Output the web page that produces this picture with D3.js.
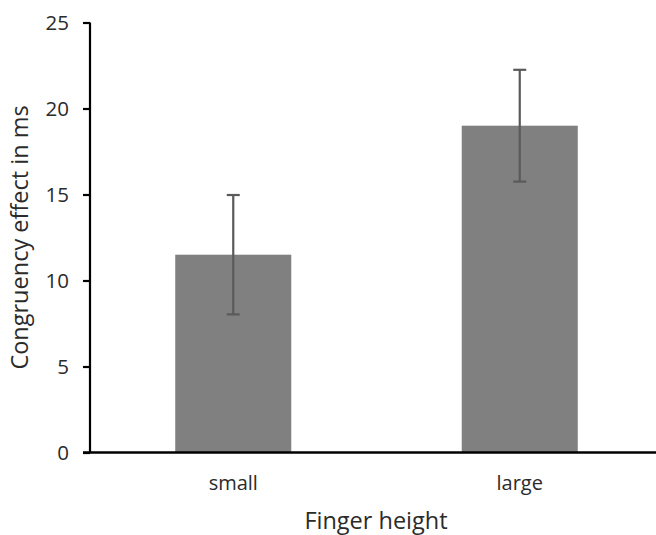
<!DOCTYPE html>
<html>
<head>
<meta charset="utf-8">
<script src="https://cdn.jsdelivr.net/npm/d3@7"></script>
<style>
  html, body { margin: 0; padding: 0; background: #fff; }
  svg { display: block; }
  text { font-family: "Open Sans", sans-serif; fill: #2b2b2b; }
</style>
</head>
<body>
<div id="chart"></div>
<script>
const categories = ["small", "large"];
const values = [11.5, 19.0];
const errors = [3.47, 3.25];
const yTicks = [0, 5, 10, 15, 20, 25];
const xTitle = "Finger height";
const yTitle = "Congruency effect in ms";

const W = 656, H = 535;
const mLeft = 90, mRight = 663, mTop = 22.5, mBottom = 452.5;

const svg = d3.select("#chart").append("svg").attr("width", W).attr("height", H);

const x = d3.scaleBand().domain(categories).range([mLeft, mRight]).paddingInner(0.595).paddingOuter(0.2975);
const y = d3.scaleLinear().domain([0, 25]).range([mBottom, mTop]);

// bars
svg.selectAll("rect.bar").data(categories).join("rect")
  .attr("class", "bar")
  .attr("x", d => x(d))
  .attr("width", x.bandwidth())
  .attr("y", (d, i) => y(values[i]))
  .attr("height", (d, i) => y(0) - y(values[i]))
  .attr("fill", "#808080");

// error bars
const eb = svg.selectAll("g.err").data(categories).join("g").attr("class", "err");
eb.append("line")
  .attr("x1", d => x(d) + x.bandwidth() / 2)
  .attr("x2", d => x(d) + x.bandwidth() / 2)
  .attr("y1", (d, i) => y(values[i] + errors[i]))
  .attr("y2", (d, i) => y(values[i] - errors[i]))
  .attr("stroke", "#5a5a5a").attr("stroke-width", 2.2);
[1, -1].forEach(s => {
  eb.append("line")
    .attr("x1", d => x(d) + x.bandwidth() / 2 - 6.5)
    .attr("x2", d => x(d) + x.bandwidth() / 2 + 6.5)
    .attr("y1", (d, i) => y(values[i] + s * errors[i]))
    .attr("y2", (d, i) => y(values[i] + s * errors[i]))
    .attr("stroke", "#5a5a5a").attr("stroke-width", 2.2);
});

// y axis
const yAxis = svg.append("g").attr("transform", `translate(${mLeft},0)`)
  .call(d3.axisLeft(y).tickValues(yTicks).tickSize(7).tickPadding(14));
yAxis.select(".domain").attr("d", `M0,${mTop}V${mBottom}`).attr("stroke", "#000").attr("stroke-width", 2.2);
yAxis.selectAll(".tick line").attr("stroke", "#000").attr("stroke-width", 2.2);
yAxis.selectAll(".tick text").style("font-size", "20.5px").style("font-family", "Open Sans").attr("fill", "#2b2b2b");

// x axis
const xAxis = svg.append("g").attr("transform", `translate(0,${mBottom})`)
  .call(d3.axisBottom(x).tickSize(0).tickPadding(23));
xAxis.select(".domain").attr("d", `M${mLeft - 7},0H${mRight}`).attr("stroke", "#000").attr("stroke-width", 2.5);
xAxis.selectAll(".tick text").style("font-size", "20px").style("font-family", "Open Sans").attr("fill", "#2b2b2b");

// titles
svg.append("text").attr("x", 376).attr("y", 528.5)
  .attr("text-anchor", "middle").style("font-size", "23.5px").text(xTitle);
svg.append("text").attr("transform", `translate(28,${(mTop + mBottom) / 2}) rotate(-90)`)
  .attr("text-anchor", "middle").style("font-size", "23.5px").text(yTitle);
</script>
</body>
</html>
